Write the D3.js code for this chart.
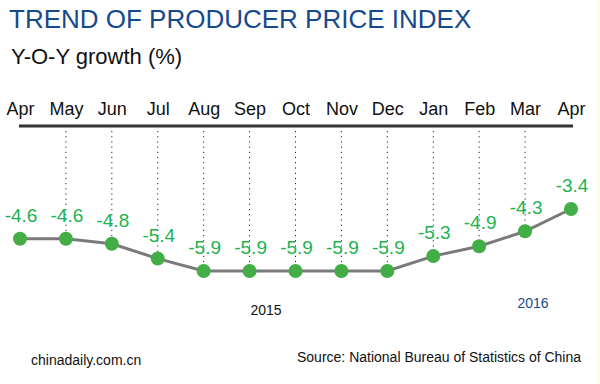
<!DOCTYPE html>
<html>
<head>
<meta charset="utf-8">
<script src="https://cdn.jsdelivr.net/npm/d3@7"></script>
<style>
  html, body { margin: 0; padding: 0; background: #fff; }
  svg { display: block; font-family: Arial, "Liberation Sans", sans-serif; }
</style>
</head>
<body>
<div id="chart"></div>
<script>
// PPI year-on-year growth, Apr 2015 – Apr 2016
const months = ['Apr', 'May', 'Jun', 'Jul', 'Aug', 'Sep', 'Oct', 'Nov', 'Dec', 'Jan', 'Feb', 'Mar', 'Apr2'];
const monthLabels = ['Apr', 'May', 'Jun', 'Jul', 'Aug', 'Sep', 'Oct', 'Nov', 'Dec', 'Jan', 'Feb', 'Mar', 'Apr'];
const growth = [-4.6, -4.6, -4.8, -5.4, -5.9, -5.9, -5.9, -5.9, -5.9, -5.3, -4.9, -4.3, -3.4];

const width = 600, height = 384;

const svg = d3.select('#chart').append('svg')
  .attr('width', width)
  .attr('height', height);

svg.append('rect').attr('x', 596).attr('y', 0).attr('width', 4).attr('height', height).attr('fill', '#fffbea');

const x = d3.scalePoint().domain(months).range([20, 571]);
const y = d3.scaleLinear().domain([-5.9, -3.4]).range([271, 209]);

// titles
svg.append('text').attr('x', 9).attr('y', 28)
  .attr('font-size', 26).attr('fill', '#174a8c')
  .text('TREND OF PRODUCER PRICE INDEX');
svg.append('text').attr('x', 11).attr('y', 64)
  .attr('font-size', 22).attr('fill', '#111')
  .text('Y-O-Y growth (%)');

// month axis on top
const axis = svg.append('g').attr('transform', 'translate(0,126)')
  .call(d3.axisTop(x).tickSize(0).tickPadding(11).tickFormat((d, i) => monthLabels[i]));
axis.select('.domain').remove();
axis.selectAll('text').attr('font-size', 18).attr('fill', '#111').attr('font-family', 'Arial, "Liberation Sans", sans-serif');

svg.append('line')
  .attr('x1', x('Apr') - 1).attr('x2', x('Apr2') + 2)
  .attr('y1', 126).attr('y2', 126)
  .attr('stroke', '#333').attr('stroke-width', 3);

// dotted guides
svg.append('g').selectAll('line')
  .data(months.slice(1, -1))
  .join('line')
  .attr('x1', d => x(d)).attr('x2', d => x(d))
  .attr('y1', 131).attr('y2', (d, i) => y(growth[i + 1]))
  .attr('stroke', '#222').attr('stroke-width', 1)
  .attr('stroke-dasharray', '1.2,4');

// line
const line = d3.line().x((d, i) => x(months[i])).y(d => y(d));
svg.append('path').datum(growth)
  .attr('d', line)
  .attr('fill', 'none')
  .attr('stroke', '#7a7a7a')
  .attr('stroke-width', 3);

// points
svg.append('g').selectAll('circle')
  .data(growth)
  .join('circle')
  .attr('cx', (d, i) => x(months[i]))
  .attr('cy', d => y(d))
  .attr('r', 7)
  .attr('fill', '#43ad46');

// value labels
svg.append('g').selectAll('text')
  .data(growth)
  .join('text')
  .attr('x', (d, i) => x(months[i]) + 1)
  .attr('y', d => y(d) - 17)
  .attr('text-anchor', 'middle')
  .attr('font-size', 19)
  .attr('fill', '#1db34f')
  .text(d => d.toFixed(1));

// year labels
svg.append('text').attr('x', 266).attr('y', 315)
  .attr('text-anchor', 'middle').attr('font-size', 14).attr('fill', '#111')
  .text('2015');
svg.append('text').attr('x', 533).attr('y', 308)
  .attr('text-anchor', 'middle').attr('font-size', 14).attr('fill', '#174a8c')
  .text('2016');

// footer
svg.append('text').attr('x', 31).attr('y', 365)
  .attr('font-size', 14).attr('fill', '#111')
  .text('chinadaily.com.cn');
svg.append('text').attr('x', 297).attr('y', 362)
  .attr('font-size', 14).attr('fill', '#111')
  .text('Source: National Bureau of Statistics of China');
</script>
</body>
</html>
